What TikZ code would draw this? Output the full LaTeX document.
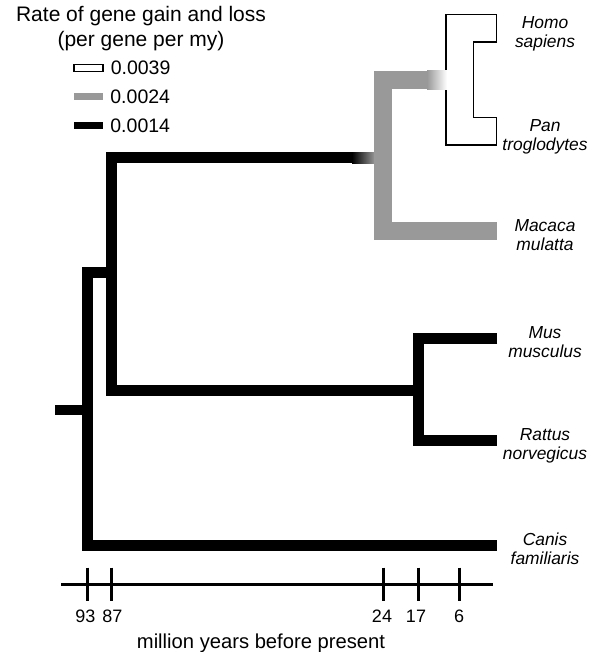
\documentclass[tikz,border=0pt]{standalone}
\usepackage{fontspec}
\setmainfont{Liberation Sans}
\usetikzlibrary{positioning, calc}
\definecolor{midgray}{HTML}{999999}
\newcommand{\fs}[2]{\fontsize{#1}{#2}\selectfont}

\begin{document}
\begin{tikzpicture}[x=1pt, y=-1pt,
  blk/.style={line width=11pt, black},
  gry/.style={line width=18.5pt, midgray},
  wout/.style={line width=29pt, black},
  win/.style={line width=26pt, white},
  sp/.style={font=\fs{17.4}{19.5}\itshape, align=center, inner sep=0pt, yshift=-19.5pt},
  legbox/.style={minimum width=29pt, minimum height=7pt, inner sep=0pt},
  legtxt/.style={font=\fs{19.5}{22}, inner sep=0pt},
  tick/.style={line width=3pt},
  tlab/.style={font=\fs{18}{22}, inner sep=0pt, anchor=base},
  node distance=7pt
]
\useasboundingbox (0,0) rectangle (599,652);

% Tree nodes (x = age, y = branch)
\coordinate (r93) at (87,410);
\coordinate (n87) at (111,272);
\coordinate (n24) at (383,155.5);
\coordinate (n17) at (418,390);
\coordinate (n6) at (459.5,80);
\coordinate (stub) at (55,410);
\coordinate (fadeA) at (352,158);
\coordinate (stemB) at (427,80);
% Tips
\coordinate (hs) at (497,28.5);
\coordinate (pt) at (497,131.5);
\coordinate (mmu) at (497,231);
\coordinate (mm) at (497,338);
\coordinate (rn) at (497,440);
\coordinate (cf) at (497,545);

% Rate 0.0014
\draw[blk, line width=9.5pt] (stub) -- (r93);
\draw[blk] (n87) -| (r93) |- (cf);
\draw[blk] (fadeA) -| (n87) |- (n17);
\draw[blk] (mm) -| (n17) |- (rn);
\shade[left color=black, right color=midgray] ($(fadeA)+(0,-5.5)$) rectangle ($(n24 |- fadeA)+(-8,5.5)$);

% Rate 0.0039
\draw[wout] (hs) -| (n6) |- (pt);
\draw[win] ($(hs)+(-1.5,0)$) -| (n6) |- ($(pt)+(-1.5,0)$);

% Rate 0.0024
\draw[gry] (stemB) -| (n24) |- (mmu);
\shade[left color=midgray, right color=white] ($(stemB)+(0,-9.25)$) rectangle ($(n6)+(-12.5,9.25)$);

% Species
\node[sp, right=48pt of hs, anchor=base] (lhs) {Homo\\sapiens};
\node[sp, right=48pt of pt, anchor=base] (lpt) {Pan\\troglodytes};
\node[sp, right=48pt of mmu, anchor=base] (lmmu) {Macaca\\mulatta};
\node[sp, right=48pt of mm, anchor=base] (lmm) {Mus\\musculus};
\node[sp, right=48pt of rn, anchor=base] (lrn) {Rattus\\norvegicus};
\node[sp, right=48pt of cf, anchor=base] (lcf) {Canis\\familiaris};

% Legend
\node[font=\fs{21}{25}, align=center, inner sep=0pt, anchor=base] (title) at (141,47) {Rate of gene gain and loss\\(per gene per my)};
\node[legbox, draw, line width=1.2pt, fill=white] (lw) at (88.5,68) {};
\node[legbox, fill=midgray] (lg) at (88.5,97) {};
\node[legbox, fill=black] (lb) at (88.5,126) {};
\node[legtxt, right=of lw] (tw) {0.0039};
\node[legtxt, right=of lg] (tg) {0.0024};
\node[legtxt, right=of lb] (tb) {0.0014};

% Time axis
\coordinate (axL) at (61,584);
\coordinate (axR) at (493,584);
\draw[tick] (axL) -- (axR);
\foreach \n/\t/\dx in {r93/93/-1.5, n87/87/1.5, n24/24/-1, n17/17/-2, n6/6/-0.5} {
  \draw[tick] ($(\n |- axL)+(0,-16.5)$) -- ($(\n |- axL)+(0,16.5)$);
  \node[tlab] (lab\t) at ($(\n |- axL)+(\dx,38)$) {\t};
}
\node[font=\fs{20.2}{24}, inner sep=0pt, anchor=base] (axtitle) at (261,648) {million years before present};
\end{tikzpicture}
\end{document}
